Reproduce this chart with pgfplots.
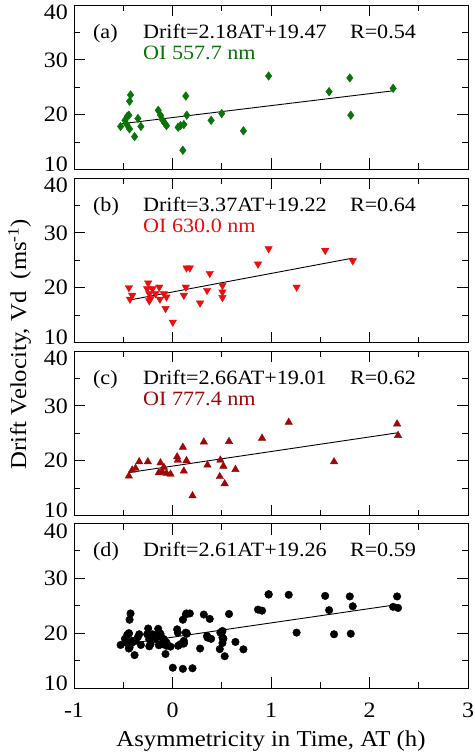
\documentclass[border=0pt]{standalone}
\usepackage{pgfplots}
\usepackage{pgfplotstable}
\pgfplotsset{compat=1.18}
\usepackage{fontspec}
\setmainfont{Liberation Serif}[FakeStretch=1.09]
\definecolor{cA}{RGB}{10,115,10}
\definecolor{cB}{RGB}{238,12,12}
\definecolor{cC}{RGB}{158,8,8}

\pgfplotstableread{
x y
-0.527 17.85
-0.483 18.96
-0.463 18.2
-0.459 19.7
-0.443 19.9
-0.436 22.45
-0.426 23.6
-0.436 17.4
-0.385 16.0
-0.351 19.3
-0.321 17.85
-0.145 20.8
-0.122 19.9
-0.098 18.96
-0.081 18.5
-0.061 18.0
0.057 17.7
0.081 18.0
0.105 13.5
0.115 18.2
0.135 23.4
0.145 19.9
0.392 18.96
0.500 20.2
0.720 17.05
0.976 27.05
1.590 24.2
1.800 26.7
1.810 19.9
2.240 24.8
}\dataA

\pgfplotstableread{
x y
-0.443 20.0
-0.409 18.6
-0.432 17.9
-0.247 20.85
-0.257 19.8
-0.236 18.9
-0.236 17.6
-0.223 18.0
-0.203 19.8
-0.172 18.9
-0.135 20.1
-0.128 17.9
-0.088 18.9
-0.061 18.3
-0.071 16.2
0.003 13.7
0.115 18.6
0.135 20.1
0.142 23.6
0.176 23.6
0.280 17.2
0.351 19.5
0.378 22.6
0.507 20.4
0.507 19.2
0.507 18.2
0.868 24.3
0.976 27.1
1.260 20.1
1.550 26.8
1.830 24.9
}\dataB

\pgfplotstableread{
x y
-0.443 17.2
-0.409 18.3
-0.375 18.6
-0.338 19.8
-0.250 19.8
-0.122 19.6
-0.139 17.8
-0.105 18.0
-0.088 18.8
-0.061 17.7
-0.020 17.55
0.047 20.7
0.054 20.1
0.105 22.45
0.115 18.1
0.142 20.0
0.203 13.6
0.318 23.4
0.355 19.2
0.486 20.1
0.480 17.1
0.517 19.0
0.530 15.8
0.574 23.5
0.639 18.4
0.909 24.1
1.180 27.0
1.640 19.8
2.280 26.7
2.290 24.6
}\dataC

\tikzset{
 txt/.style={anchor=base west, inner sep=0pt, font=\fontsize{20.3}{22}\selectfont},
 fitline/.style={black, line width=0.9pt, mark=none, sharp plot},
}
\pgfplotsset{
 panel/.style={
  scale only axis, width=394pt, height=164.5pt,
  xmin=-1, xmax=3, ymin=10, ymax=40,
  xtick={-1,0,1,2,3}, minor xtick={-0.5,0.5,1.5,2.5},
  ytick={10,20,30,40}, minor ytick={15,25,35},
  tick align=inside, tick pos=both,
  major tick length=11pt, minor tick length=6pt,
  axis line style={line width=0.9pt},
  every tick/.style={black, line width=0.9pt},
  xticklabels={},
  yticklabels={10,20,30,40},
  yticklabel style={font=\fontsize{22}{24}\selectfont, inner sep=0pt, xshift=-6pt,
     yshift={((\ticknum==0)*5-(\ticknum==3)*7.5)*1pt}},
 },
}

\begin{document}
\begin{tikzpicture}
\useasboundingbox (0,0) rectangle (474pt,-754pt);

% (a)
\begin{axis}[panel, at={(74pt,-5pt)}, anchor=north west]
\addplot[only marks, mark=diamond*, mark size=4.3pt, color=cA] table {\dataA};
\addplot[fitline] coordinates {(-0.51,18.36) (2.24,24.35)};
\node[txt] at (rel axis cs:0.048,0.798) {(a)};
\node[txt] at (rel axis cs:0.175,0.798) {Drift=2.18AT+19.47};
\node[txt] at (rel axis cs:0.70,0.798) {R=0.54};
\node[txt, text=cA] at (rel axis cs:0.175,0.666) {OI 557.7 nm};
\end{axis}

% (b)
\begin{axis}[panel, at={(74pt,-178pt)}, anchor=north west,
  ylabel={Drift Velocity, Vd\ \ (ms\textsuperscript{-1})},
  ylabel style={at={(axis description cs:-0.138,-0.01)}, anchor=center, font=\fontsize{22.7}{24}\selectfont}]
\addplot[only marks, mark=triangle*, mark size=4.3pt, mark options={rotate=180}, color=cB] table {\dataB};
\addplot[fitline] coordinates {(-0.432,17.76) (1.83,25.39)};
\node[txt] at (rel axis cs:0.048,0.798) {(b)};
\node[txt] at (rel axis cs:0.175,0.798) {Drift=3.37AT+19.22};
\node[txt] at (rel axis cs:0.70,0.798) {R=0.64};
\node[txt, text=cB] at (rel axis cs:0.175,0.666) {OI 630.0 nm};
\end{axis}

% (c)
\begin{axis}[panel, at={(74pt,-351pt)}, anchor=north west]
\addplot[only marks, mark=triangle*, mark size=4.3pt, color=cC] table {\dataC};
\addplot[fitline] coordinates {(-0.44,17.84) (2.28,25.07)};
\node[txt] at (rel axis cs:0.048,0.798) {(c)};
\node[txt] at (rel axis cs:0.175,0.798) {Drift=2.66AT+19.01};
\node[txt] at (rel axis cs:0.70,0.798) {R=0.62};
\node[txt, text=cC] at (rel axis cs:0.175,0.666) {OI 777.4 nm};
\end{axis}

% (d)
\begin{axis}[panel, at={(74pt,-523.5pt)}, anchor=north west,
  xticklabels={-1,0,1,2,3},
  xticklabel style={font=\fontsize{22}{24}\selectfont, yshift=-11pt},
  xlabel={Asymmetricity in Time, AT (h)},
  xlabel style={at={(axis description cs:0.5,0)}, anchor=center, yshift=-53pt, font=\fontsize{22.7}{24}\selectfont}]
\addplot[only marks, mark=*, mark size=3.8pt, color=black] table {\dataA};
\addplot[only marks, mark=*, mark size=3.8pt, color=black] table {\dataB};
\addplot[only marks, mark=*, mark size=3.8pt, color=black] table {\dataC};
\addplot[fitline] coordinates {(-0.51,17.93) (2.28,25.21)};
\node[txt] at (rel axis cs:0.048,0.798) {(d)};
\node[txt] at (rel axis cs:0.175,0.798) {Drift=2.61AT+19.26};
\node[txt] at (rel axis cs:0.70,0.798) {R=0.59};
\end{axis}
\end{tikzpicture}
\end{document}
